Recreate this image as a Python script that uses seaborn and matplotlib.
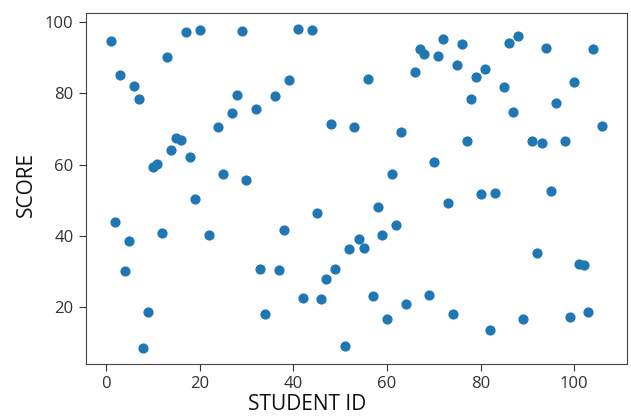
import matplotlib
matplotlib.use("Agg")
import matplotlib.pyplot as plt
import seaborn as sns
import pandas as pd

# Student IDs and their scores
student_id = [1, 2, 3, 4, 5, 6, 7, 8, 9, 10, 11, 12, 13, 14, 15, 16, 17, 18, 19, 20,
              22, 24, 25, 27, 28, 29, 30, 32, 33, 34, 36, 37, 38, 39, 41, 42, 44, 45,
              46, 47, 48, 49, 51, 52, 53, 54, 55, 56, 57, 58, 59, 60, 61, 62, 63, 64,
              66, 67, 68, 69, 70, 71, 72, 73, 74, 75, 76, 77, 78, 79, 80, 81, 82, 83,
              85, 86, 87, 88, 89, 91, 92, 93, 94, 95, 96, 98, 99, 100, 101, 102, 103,
              104, 106]
score = [94.6, 43.9, 85.1, 30.2, 38.5, 82.0, 78.4, 8.6, 18.5, 59.3, 60.1, 40.7, 90.2,
         64.2, 67.6, 66.9, 97.3, 62.1, 50.3, 97.8,
         40.3, 70.6, 57.5, 74.6, 79.7, 97.4, 55.6, 75.6, 30.7, 18.1, 79.2, 30.3, 41.7,
         83.8, 98.2, 22.6, 97.8, 46.5,
         22.2, 28.0, 71.5, 30.8, 9.1, 36.2, 70.7, 39.0, 36.6, 84.2, 23.0, 48.0, 40.3,
         16.7, 57.5, 43.0, 69.3, 20.8,
         86.0, 92.4, 91.1, 23.5, 60.7, 90.6, 95.2, 49.3, 18.1, 87.9, 93.8, 66.6, 78.4,
         84.7, 51.8, 86.9, 13.6, 52.1,
         81.9, 94.2, 74.7, 96.2, 16.7, 66.6, 35.3, 66.1, 92.9, 52.5, 77.4, 66.6, 17.2,
         83.3, 32.2, 31.7, 18.5,
         92.4, 71.0]

df = pd.DataFrame({"STUDENT ID": student_id, "SCORE": score})

plt.rcParams["font.family"] = ["Open Sans", "DejaVu Sans"]

fig = plt.figure(figsize=(6.31, 4.16), dpi=100)
ax = fig.add_axes([0.1363, 0.1257, 0.8574, 0.8438])

sns.scatterplot(data=df, x="STUDENT ID", y="SCORE", ax=ax,
                color="#1f77b4", s=54, edgecolor="#1f77b4", linewidth=0)

ax.set_xticks([0, 20, 40, 60, 80, 100])
ax.set_yticks([20, 40, 60, 80, 100])
ax.tick_params(labelsize=12, colors="#333333", length=5, pad=4)
for side in ax.spines.values():
    side.set_color("#444444")
ax.set_xlabel("STUDENT ID", fontsize=15, color="#111111", va="bottom")
ax.set_ylabel("SCORE", fontsize=15, color="#111111")
ax.xaxis.set_label_coords(0.409, -0.146)
ax.yaxis.set_label_coords(-0.09, 0.51)

fig.savefig("out.png", dpi=100)
